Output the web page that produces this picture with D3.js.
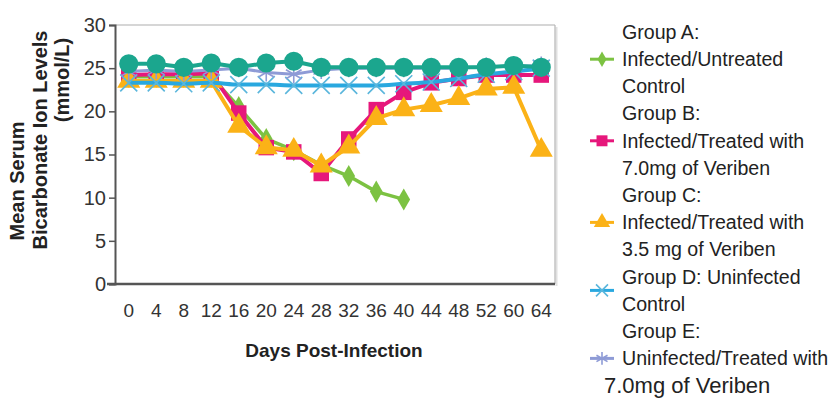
<!DOCTYPE html>
<html>
<head>
<meta charset="utf-8">
<script src="https://cdn.jsdelivr.net/npm/d3@7"></script>
<style>
  body { margin: 0; background: #fff; }
  svg { display: block; font-family: "Liberation Sans", Arial, sans-serif; }
</style>
</head>
<body>
<svg id="chart" width="829" height="399"></svg>
<script>
// days post-infection (category axis)
const days = ["0", "4", "8", "12", "16", "20", "24", "28", "32", "36", "40", "44", "48", "52", "60", "64"];
const yTicks = [0, 5, 10, 15, 20, 25, 30];

// values (mmol/L)
const groupA = [24.0, 24.0, 24.0, 24.0, 20.5, 16.8, 15.5, 13.8, 12.5, 10.7, 9.8, null, null, null, null, null];
const groupB = [24.2, 24.3, 24.3, 24.4, 19.8, 15.8, 15.3, 12.8, 16.8, 20.2, 22.2, 23.3, 23.8, 24.2, 24.2, 24.2];
const groupC = [23.5, 23.5, 23.5, 23.5, 18.3, 15.8, 15.5, 13.7, 15.9, 19.2, 20.2, 20.7, 21.5, 22.6, 22.8, 15.5];
const groupD = [23.3, 23.3, 23.2, 23.3, 23.1, 23.1, 23.0, 23.0, 23.0, 23.0, 23.2, 23.4, 23.8, 24.3, 24.6, 25.0];
const groupE = [24.6, 24.8, 24.6, 24.8, 25.0, 24.5, 24.3, 24.8, 25.0, 25.0, 25.0, 25.0, 25.0, 25.2, 25.2, 25.3];
const groupF = [25.5, 25.5, 25.1, 25.6, 25.1, 25.6, 25.8, 25.1, 25.1, 25.1, 25.1, 25.1, 25.1, 25.1, 25.3, 25.1];

const legendLines = [
  "Group A:", "Infected/Untreated", "Control",
  "Group B:", "Infected/Treated with", "7.0mg of Veriben",
  "Group C:", "Infected/Treated with", "3.5 mg of Veriben",
  "Group D: Uninfected", "Control",
  "Group E:", "Uninfected/Treated with", "7.0mg of Veriben"
];

const svg = d3.select("#chart");
const margin = { left: 115, right: 274, top: 25, bottom: 115 };
const W = 829, H = 399;

let x = d3.scaleBand().domain(days).range([margin.left, W - margin.right]);
let y = d3.scaleLinear().domain([0, 30]).range([H - margin.bottom, margin.top]);

// plot frame (top + right with a little shadow)
svg.append("line").attr("x1", margin.left).attr("x2", W - margin.right)
  .attr("y1", margin.top).attr("y2", margin.top)
  .style("stroke", "#c8c8c8").style("stroke-width", 1.5);
svg.append("line").attr("x1", W - margin.right + 1.5).attr("x2", W - margin.right + 1.5)
  .attr("y1", margin.top + 2).attr("y2", H - margin.bottom + 2)
  .style("stroke", "#e0e0e0").style("stroke-width", 2);
svg.append("line").attr("x1", W - margin.right).attr("x2", W - margin.right)
  .attr("y1", margin.top).attr("y2", H - margin.bottom)
  .style("stroke", "#b5b5b5").style("stroke-width", 1.2);

// y axis
let yAxis = svg.append("g")
  .attr("transform", `translate(${margin.left},0)`)
  .call(d3.axisLeft(y).tickValues(yTicks).tickSize(6).tickPadding(3));
yAxis.select(".domain").style("stroke", "#555").style("stroke-width", 2);
yAxis.selectAll(".tick line").style("stroke", "#555").style("stroke-width", 1.5);
yAxis.selectAll("text").style("font-size", "20px").style("fill", "#333").style("font-family", "Liberation Sans, Arial");

// x axis (no ticks, line runs a bit past the y axis)
svg.append("line").attr("x1", margin.left - 8).attr("x2", W - margin.right)
  .attr("y1", y(0)).attr("y2", y(0))
  .style("stroke", "#555").style("stroke-width", 2.5);
svg.append("g").selectAll("text").data(days).join("text")
  .attr("x", d => x(d) + x.bandwidth() / 2)
  .attr("y", 317)
  .attr("text-anchor", "middle")
  .style("font-size", "19px").style("fill", "#333")
  .text(d => d);

svg.append("text").attr("x", 334).attr("y", 357).attr("text-anchor", "middle")
  .style("font-size", "19px").style("font-weight", "bold").style("fill", "#222")
  .text("Days Post-Infection");

// y axis title, three rotated lines
const yTitle = [["Mean Serum", 24, 181], ["Bicarbonate Ion Levels", 47, 140], ["(mmol/L)", 69, 80]];
yTitle.forEach(t => {
  svg.append("text")
    .attr("transform", `translate(${t[1]},${t[2]}) rotate(-90)`)
    .attr("text-anchor", "middle")
    .style("font-size", "20px").style("font-weight", "bold").style("fill", "#222")
    .text(t[0]);
});

// series styles
const series = [
  { vals: groupA, color: "#7cc242", sym: d3.symbolDiamond, size: 140, fill: true, lw: 3.5 },
  { vals: groupB, color: "#e6177b", sym: d3.symbolSquare, size: 240, fill: true, lw: 4 },
  { vals: groupC, color: "#fbb217", sym: d3.symbolTriangle, size: 230, fill: true, lw: 4 },
  { vals: groupD, color: "#29a8df", sym: d3.symbolTimes, size: 190, fill: false, lw: 4, mcolor: "#5ab6dc" },
  { vals: groupE, color: "#8e9bd6", sym: d3.symbolAsterisk, size: 230, fill: false, lw: 3 },
  { vals: groupF, color: "#1ba68e", sym: d3.symbolCircle, size: 290, fill: true, lw: 4 }
];

let line = d3.line()
  .defined(d => d != null)
  .x((d, i) => x(days[i]) + x.bandwidth() / 2)
  .y(d => y(d));

series.forEach((s, k) => {
  svg.append("path").datum(s.vals)
    .attr("d", k == 3 ? line.curve(d3.curveMonotoneX)(s.vals) : line.curve(d3.curveLinear)(s.vals))
    .style("fill", "none").style("stroke", s.color).style("stroke-width", s.lw)
    .style("stroke-linejoin", "round");
  s.vals.forEach((v, i) => {
    if (v == null) return;
    svg.append("path")
      .attr("d", d3.symbol().type(s.sym).size(s.size)())
      .attr("transform", `translate(${x(days[i]) + x.bandwidth() / 2},${y(v)})`)
      .style("fill", s.fill ? s.color : "none")
      .style("stroke", s.fill ? "none" : (s.mcolor || s.color))
      .style("stroke-width", s.fill ? 0 : 1.6);
  });
});

// legend
const legX = 622, legY0 = 32, legStep = 27.2;
legendLines.forEach((t, i) => {
  let last = i == legendLines.length - 1;
  svg.append("text")
    .attr("x", last ? 604 : legX)
    .attr("y", legY0 + i * legStep)
    .attr("dy", "0.35em")
    .style("font-size", last ? "22px" : "19.6px").style("fill", "#222")
    .text(t);
});
const legMarks = [
  { s: series[0], row: 1 }, { s: series[1], row: 4 }, { s: series[2], row: 7 },
  { s: series[3], row: 9.5 }, { s: series[4], row: 12 }
];
legMarks.forEach(m => {
  let cy = legY0 + m.row * legStep;
  svg.append("line").attr("x1", 590).attr("x2", 614).attr("y1", cy).attr("y2", cy)
    .style("stroke", m.s.color).style("stroke-width", 3);
  svg.append("path")
    .attr("d", d3.symbol().type(m.s.sym).size(m.s.size * 0.5)())
    .attr("transform", `translate(602,${cy})`)
    .style("fill", m.s.fill ? m.s.color : "none")
    .style("stroke", m.s.fill ? "none" : (m.s.mcolor || m.s.color))
    .style("stroke-width", m.s.fill ? 0 : 1.6);
});
</script>
</body>
</html>
